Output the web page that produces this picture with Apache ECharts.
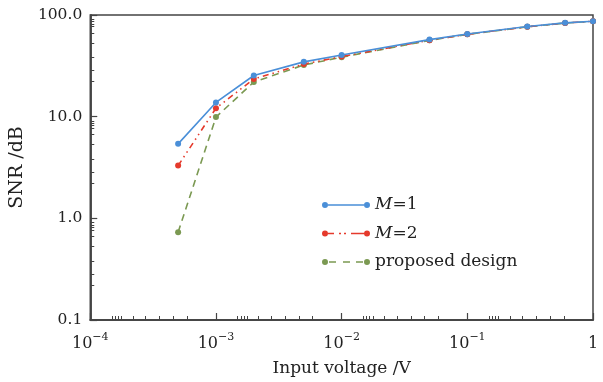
<!DOCTYPE html>
<html>
<head>
<meta charset="utf-8">
<script src="https://cdn.jsdelivr.net/npm/echarts@6/dist/echarts.min.js"></script>
<style>html,body{margin:0;padding:0;background:#fff;}#c{width:603px;height:382px;}</style>
</head>
<body>
<div id="c"></div>
<script>
// ---- data ----
const inputVoltage = [0.0005, 0.001, 0.002, 0.005, 0.01, 0.05, 0.1, 0.3, 0.6, 1];
const snrM1       = [5.4, 13.8, 25.4, 34.6, 40.4, 57.3, 65.1, 77.0, 83.7, 86.9];
const snrM2       = [3.3, 12.1, 23.5, 32.9, 39.0, 56.6, 64.6, 76.6, 83.4, 86.8];
const snrProposed = [0.73, 9.9, 21.9, 32.2, 38.5, 56.3, 64.5, 76.5, 83.3, 86.7];
const seriesNames = ['M=1', 'M=2', 'proposed design'];
const legendLabels = ['{i|M}=1', '{i|M}=2', 'proposed design'];
const yTickLabels = ['0.1', '1.0', '10.0', '100.0'];
// minor tick positions (fraction of a decade)
const xMinorFrac = [0.172, 0.198, 0.222, 0.25, 0.34, 0.44, 0.55, 0.66, 0.77];
const yMinorFrac = [0.042, 0.065, 0.087, 0.113, 0.177, 0.274, 0.418, 0.548, 0.654];

const FONT = 'DejaVu Serif';
const AX = '#444';
const colors = ['#4a8fd8', '#e53a2c', '#7b9952'];

const xMinor = [];
for (let d = -4; d < 0; d++) xMinorFrac.forEach(f => xMinor.push(+(d + f).toFixed(3)));
const yMinor = [];
for (let D = 2; D > -1; D--) yMinorFrac.forEach(f => yMinor.push(+(D - f).toFixed(3)));
yMinor.sort((a, b) => a - b);

const icons = [
  'path://M0,3A3,3 0 1,1 6,3A3,3 0 1,1 0,3Z M42,3A3,3 0 1,1 48,3A3,3 0 1,1 42,3Z M6,2.25L42,2.25L42,3.75L6,3.75Z',
  'path://M0,3A3,3 0 1,1 6,3A3,3 0 1,1 0,3Z M42,3A3,3 0 1,1 48,3A3,3 0 1,1 42,3Z M6,2.25L12,2.25L12,3.75L6,3.75Z M17,2.25L19,2.25L19,3.75L17,3.75Z M22,2.25L24,2.25L24,3.75L22,3.75Z M29,2.25L42,2.25L42,3.75L29,3.75Z',
  'path://M0,3A3,3 0 1,1 6,3A3,3 0 1,1 0,3Z M42,3A3,3 0 1,1 48,3A3,3 0 1,1 42,3Z M7,2.25L14,2.25L14,3.75L7,3.75Z M21,2.25L28,2.25L28,3.75L21,3.75Z M34,2.25L41,2.25L41,3.75L34,3.75Z'
];

const dataSets = [snrM1, snrM2, snrProposed];
const lineTypes = ['solid', [6, 4, 1.5, 4, 1.5, 4], [7, 5]];
const zs = [4, 3, 2];

const chart = echarts.init(document.getElementById('c'), null, {renderer: 'canvas'});
chart.setOption({
  animation: false,
  backgroundColor: '#fff',
  grid: {left: 90, right: 10, top: 15, bottom: 57, show: true, borderColor: AX, borderWidth: 1.5, backgroundColor: 'transparent'},
  legend: {
    orient: 'vertical', left: 317, top: 190,
    itemWidth: 48, itemHeight: 6, itemGap: 8.5,
    data: seriesNames.map((n, i) => ({name: n, icon: icons[i]})),
    formatter: n => legendLabels[seriesNames.indexOf(n)],
    textStyle: {fontFamily: FONT, fontSize: 17, color: '#222', lineHeight: 20,
      rich: {i: {fontFamily: FONT, fontSize: 17, fontStyle: 'italic', color: '#222', lineHeight: 20}}}
  },
  xAxis: [{
    type: 'log', logBase: 10, min: 0.0001, max: 1,
    name: 'Input voltage /V', nameLocation: 'middle', nameGap: 40,
    nameTextStyle: {fontFamily: FONT, fontSize: 17, color: '#222'},
    axisLine: {show: true, onZero: false, lineStyle: {color: AX, width: 1.5}},
    axisTick: {show: true, inside: true, length: 7, lineStyle: {color: AX, width: 1.2}},
    minorTick: {show: false},
    splitLine: {show: false},
    axisLabel: {
      margin: 12, color: '#222',
      formatter: v => {
        const e = Math.round(Math.log10(v));
        return e === 0 ? '{b|1}' : '{b|10}{s|' + String(e).replace('-', '\u2212') + '}';
      },
      rich: {
        b: {fontFamily: FONT, fontSize: 16, color: '#222', lineHeight: 20, verticalAlign: 'bottom'},
        s: {fontFamily: FONT, fontSize: 11, color: '#222', lineHeight: 20, verticalAlign: 'top', padding: [0, 0, 11, 0]}
      }
    }
  }, {
    type: 'value', min: -4, max: 0, position: 'bottom',
    axisLine: {show: true, onZero: false, lineStyle: {color: AX, width: 1.5}},
    axisLabel: {show: false}, splitLine: {show: false},
    axisTick: {show: true, inside: true, length: 4, customValues: xMinor, lineStyle: {color: AX, width: 1}}
  }],
  yAxis: [{
    type: 'log', logBase: 10, min: 0.1, max: 100,
    name: 'SNR /dB', nameLocation: 'middle', nameGap: 56,
    nameTextStyle: {fontFamily: FONT, fontSize: 19, color: '#222'},
    axisLine: {show: true, onZero: false, lineStyle: {color: AX, width: 1.5}},
    axisTick: {show: true, inside: true, length: 7, lineStyle: {color: AX, width: 1.2}},
    splitLine: {show: false},
    axisLabel: {
      margin: 8, fontFamily: FONT, fontSize: 15.5, color: '#222',
      formatter: v => {
        const e = Math.round(Math.log10(v));
        return yTickLabels[e + 1];
      }
    }
  }, {
    type: 'value', min: -1, max: 2, position: 'left',
    axisLine: {show: true, onZero: false, lineStyle: {color: AX, width: 1.5}},
    axisLabel: {show: false}, splitLine: {show: false},
    axisTick: {show: true, inside: true, length: 4, customValues: yMinor, lineStyle: {color: AX, width: 1}}
  }],
  series: seriesNames.map((n, i) => ({
    name: n, type: 'line', xAxisIndex: 0, yAxisIndex: 0, z: zs[i],
    data: inputVoltage.map((x, k) => [x, dataSets[i][k]]),
    symbol: 'circle', symbolSize: 6,
    itemStyle: {color: colors[i]},
    lineStyle: {color: colors[i], width: 1.6, type: lineTypes[i]}
  }))
});
</script>
</body>
</html>
